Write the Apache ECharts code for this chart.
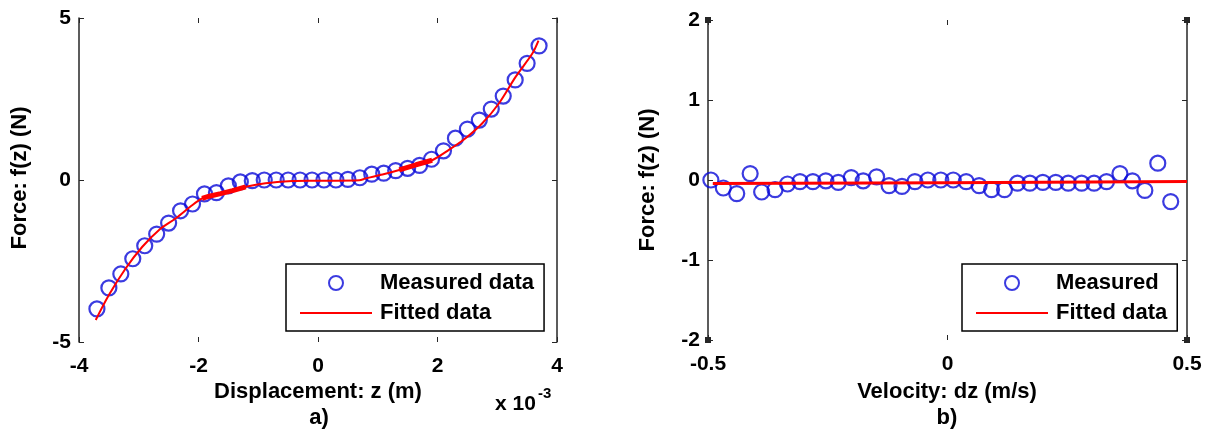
<!DOCTYPE html>
<html>
<head>
<meta charset="utf-8">
<script src="https://cdn.jsdelivr.net/npm/echarts@6/dist/echarts.min.js"></script>
<style>
  html, body { margin: 0; padding: 0; background: #fff; }
  #main { width: 1209px; height: 433px; }
</style>
</head>
<body>
<div id="main"></div>
<script>
// a) displacement (x 10^-3 m) vs force
const dispZ = [-3.7, -3.5, -3.3, -3.1, -2.9, -2.7, -2.5, -2.3, -2.1, -1.9, -1.7, -1.5, -1.3, -1.1,
  -0.9, -0.7, -0.5, -0.3, -0.1, 0.1, 0.3, 0.5, 0.7, 0.9, 1.1, 1.3, 1.5, 1.7, 1.9,
  2.1, 2.3, 2.5, 2.7, 2.9, 3.1, 3.3, 3.5, 3.7]
const dispF = [-3.98, -3.33, -2.90, -2.43, -2.03, -1.67, -1.33, -0.95, -0.74, -0.43, -0.39, -0.18, -0.06, -0.02,
  0, 0, 0, 0, 0, 0, 0, 0.02, 0.07, 0.18, 0.21, 0.29, 0.36, 0.45, 0.64,
  0.90, 1.29, 1.57, 1.85, 2.19, 2.59, 3.09, 3.60, 4.14]
const fitZ = [-3.72, -3.50, -3.22, -2.94, -2.66, -2.38, -2.10, -1.94, -1.82, -1.63, -1.43, -1.21, -0.88, -0.43,
  -0.15, 0.30, 0.69, 0.80, 1.08, 1.36, 1.64, 1.91, 2.19, 2.47, 2.75, 3.03, 3.31, 3.59, 3.69]
const fitF = [-4.32, -3.55, -2.73, -2.06, -1.54, -1.18, -0.77, -0.57, -0.50, -0.42, -0.33, -0.21, -0.10, -0.03,
  -0.02, -0.02, -0.01, 0.05, 0.17, 0.31, 0.47, 0.61, 0.93, 1.29, 1.75, 2.37, 3.19, 3.91, 4.30]

// b) velocity vs force
const velZ = [-0.494, -0.468, -0.440, -0.412, -0.388, -0.360, -0.334, -0.308, -0.281, -0.254, -0.228, -0.201,
  -0.176, -0.148, -0.122, -0.095, -0.068, -0.041, -0.014, 0.012, 0.039, 0.066, 0.092, 0.119, 0.146,
  0.172, 0.199, 0.226, 0.252, 0.280, 0.306, 0.332, 0.360, 0.386, 0.412, 0.439, 0.466]
const velF = [0, -0.10, -0.17, 0.08, -0.15, -0.12, -0.05, -0.02, -0.02, -0.01, -0.03, 0.03,
  -0.01, 0.04, -0.07, -0.08, -0.02, 0, 0, 0, -0.02, -0.07, -0.12, -0.12, -0.04,
  -0.04, -0.03, -0.03, -0.04, -0.04, -0.04, -0.02, 0.08, -0.01, -0.13, 0.21, -0.27]
const velFitZ = [-0.49, 0, 0.5]
const velFitF = [-0.045, -0.035, -0.02]

const dispTicks = [-4, -2, 0, 2, 4]
const velTicks = [-0.5, 0, 0.5]

const FONT = 'Liberation Sans'
const BLUE = '#0a0ad8'
const RED = '#ff0000'
const AXIS = '#262626'
const LINE_ICON = 'path://M0 0H72V2H0Z'

const zip = (a, b) => a.map((v, i) => [v, b[i]])
const fitPts = zip(fitZ, fitF)

function xAx (grid, pos, min, max, interval, labels) {
  return {
    gridIndex: grid,
    type: 'value',
    position: pos,
    min, max, interval,
    axisLine: { show: false, onZero: false },
    axisTick: { show: true, inside: true, length: 5, lineStyle: { color: AXIS, width: 1 } },
    axisLabel: {
      show: labels,
      margin: 14,
      color: '#000',
      fontSize: 21,
      fontWeight: 'bold',
      fontFamily: FONT,
    },
    splitLine: { show: false },
  }
}

function yAx (grid, pos, min, max, interval, labels, endMarks) {
  return {
    gridIndex: grid,
    type: 'value',
    position: pos,
    min, max, interval,
    axisLine: {
      show: true,
      onZero: false,
      lineStyle: { color: AXIS, width: 1.5 },
      symbol: endMarks ? ['rect', 'rect'] : 'none',
      symbolSize: [6, 6],
    },
    axisTick: { show: true, inside: true, length: 5, lineStyle: { color: AXIS, width: 1 } },
    axisLabel: {
      show: labels,
      margin: 8,
      color: '#000',
      fontSize: 21,
      fontWeight: 'bold',
      fontFamily: FONT,
    },
    splitLine: { show: false },
  }
}

function legendOpts (left, names) {
  return {
    orient: 'vertical',
    left: left,
    top: 264,
    data: [
      { name: names[0] },
      { name: names[1], icon: LINE_ICON },
    ],
    itemWidth: 72,
    itemHeight: 14,
    itemGap: 8,
    padding: [8, 10, 7, 14],
    borderColor: '#000',
    borderWidth: 1.5,
    backgroundColor: '#fff',
    selectedMode: false,
    textStyle: {
      color: '#000',
      fontSize: 22,
      fontWeight: 'bold',
      fontFamily: FONT,
      padding: [0, 0, 0, 3],
    },
  }
}

const titleStyle = { fill: '#000', fontSize: 22, fontWeight: 'bold', fontFamily: FONT, align: 'center', verticalAlign: 'middle' }

const option = {
  animation: false,
  backgroundColor: '#fff',
  grid: [
    { left: 79, top: 18, width: 478, height: 324 },
    { left: 708, top: 20, width: 479, height: 320 },
  ],
  xAxis: [
    xAx(0, 'bottom', dispTicks[0], dispTicks[dispTicks.length - 1], 2, true),
    xAx(0, 'top', dispTicks[0], dispTicks[dispTicks.length - 1], 2, false),
    xAx(1, 'bottom', velTicks[0], velTicks[velTicks.length - 1], 0.5, true),
    xAx(1, 'top', velTicks[0], velTicks[velTicks.length - 1], 0.5, false),
  ],
  yAxis: [
    yAx(0, 'left', -5, 5, 5, true, false),
    yAx(0, 'right', -5, 5, 5, false, false),
    yAx(1, 'left', -2, 2, 1, true, true),
    yAx(1, 'right', -2, 2, 1, false, true),
  ],
  legend: [
    legendOpts(286, ['Measured data', 'Fitted data']),
    legendOpts(962, ['Measured', 'Fitted data']),
  ],
  graphic: [
    { type: 'text', x: 318, y: 392, style: Object.assign({ text: 'Displacement: z (m)' }, titleStyle) },
    { type: 'text', x: 319, y: 418, style: Object.assign({ text: 'a)' }, titleStyle) },
    { type: 'text', x: 495, y: 404, style: { text: 'x 10', fill: '#000', fontSize: 21, fontWeight: 'bold', fontFamily: FONT, verticalAlign: 'middle' } },
    { type: 'text', x: 538, y: 394, style: { text: '-3', fill: '#000', fontSize: 15, fontWeight: 'bold', fontFamily: FONT, verticalAlign: 'middle' } },
    { type: 'text', x: 20, y: 178, rotation: Math.PI / 2, style: Object.assign({ text: 'Force: f(z) (N)' }, titleStyle) },
    { type: 'text', x: 947, y: 392, style: Object.assign({ text: 'Velocity: dz (m/s)' }, titleStyle) },
    { type: 'text', x: 947, y: 418, style: Object.assign({ text: 'b)' }, titleStyle) },
    { type: 'text', x: 648, y: 180, rotation: Math.PI / 2, style: Object.assign({ text: 'Force: f(z) (N)' }, titleStyle) },
  ],
  series: [
    {
      name: 'Measured data',
      type: 'scatter',
      xAxisIndex: 0,
      yAxisIndex: 0,
      data: zip(dispZ, dispF),
      symbol: 'circle',
      symbolSize: 15,
      itemStyle: { color: 'rgba(255,255,255,0)', borderColor: BLUE, borderWidth: 2.2 },
    },
    {
      name: 'Fitted data',
      type: 'line',
      xAxisIndex: 0,
      yAxisIndex: 0,
      data: fitPts,
      symbol: 'none',
      smooth: 0.3,
      lineStyle: { color: RED, width: 2 },
      itemStyle: { color: RED },
    },
    // thick render artefacts on the fitted curve
    {
      name: 'fit band -',
      type: 'line',
      xAxisIndex: 0,
      yAxisIndex: 0,
      data: fitPts.filter(p => p[0] >= -1.95 && p[0] <= -1.2),
      symbol: 'none',
      lineStyle: { color: RED, width: 5 },
    },
    {
      name: 'fit band +',
      type: 'line',
      xAxisIndex: 0,
      yAxisIndex: 0,
      data: fitPts.filter(p => p[0] >= 1.3 && p[0] <= 1.95),
      symbol: 'none',
      lineStyle: { color: RED, width: 5 },
    },
    {
      name: 'Measured',
      type: 'scatter',
      xAxisIndex: 2,
      yAxisIndex: 2,
      data: zip(velZ, velF),
      symbol: 'circle',
      symbolSize: 15,
      itemStyle: { color: 'rgba(255,255,255,0)', borderColor: BLUE, borderWidth: 2.2 },
    },
    {
      name: 'Fitted data',
      type: 'line',
      xAxisIndex: 2,
      yAxisIndex: 2,
      data: zip(velFitZ, velFitF),
      symbol: 'none',
      lineStyle: { color: RED, width: 3 },
      itemStyle: { color: RED },
    },
  ],
}

const chart = echarts.init(document.getElementById('main'), null, { renderer: 'canvas' })
chart.setOption(option)
</script>
</body>
</html>
